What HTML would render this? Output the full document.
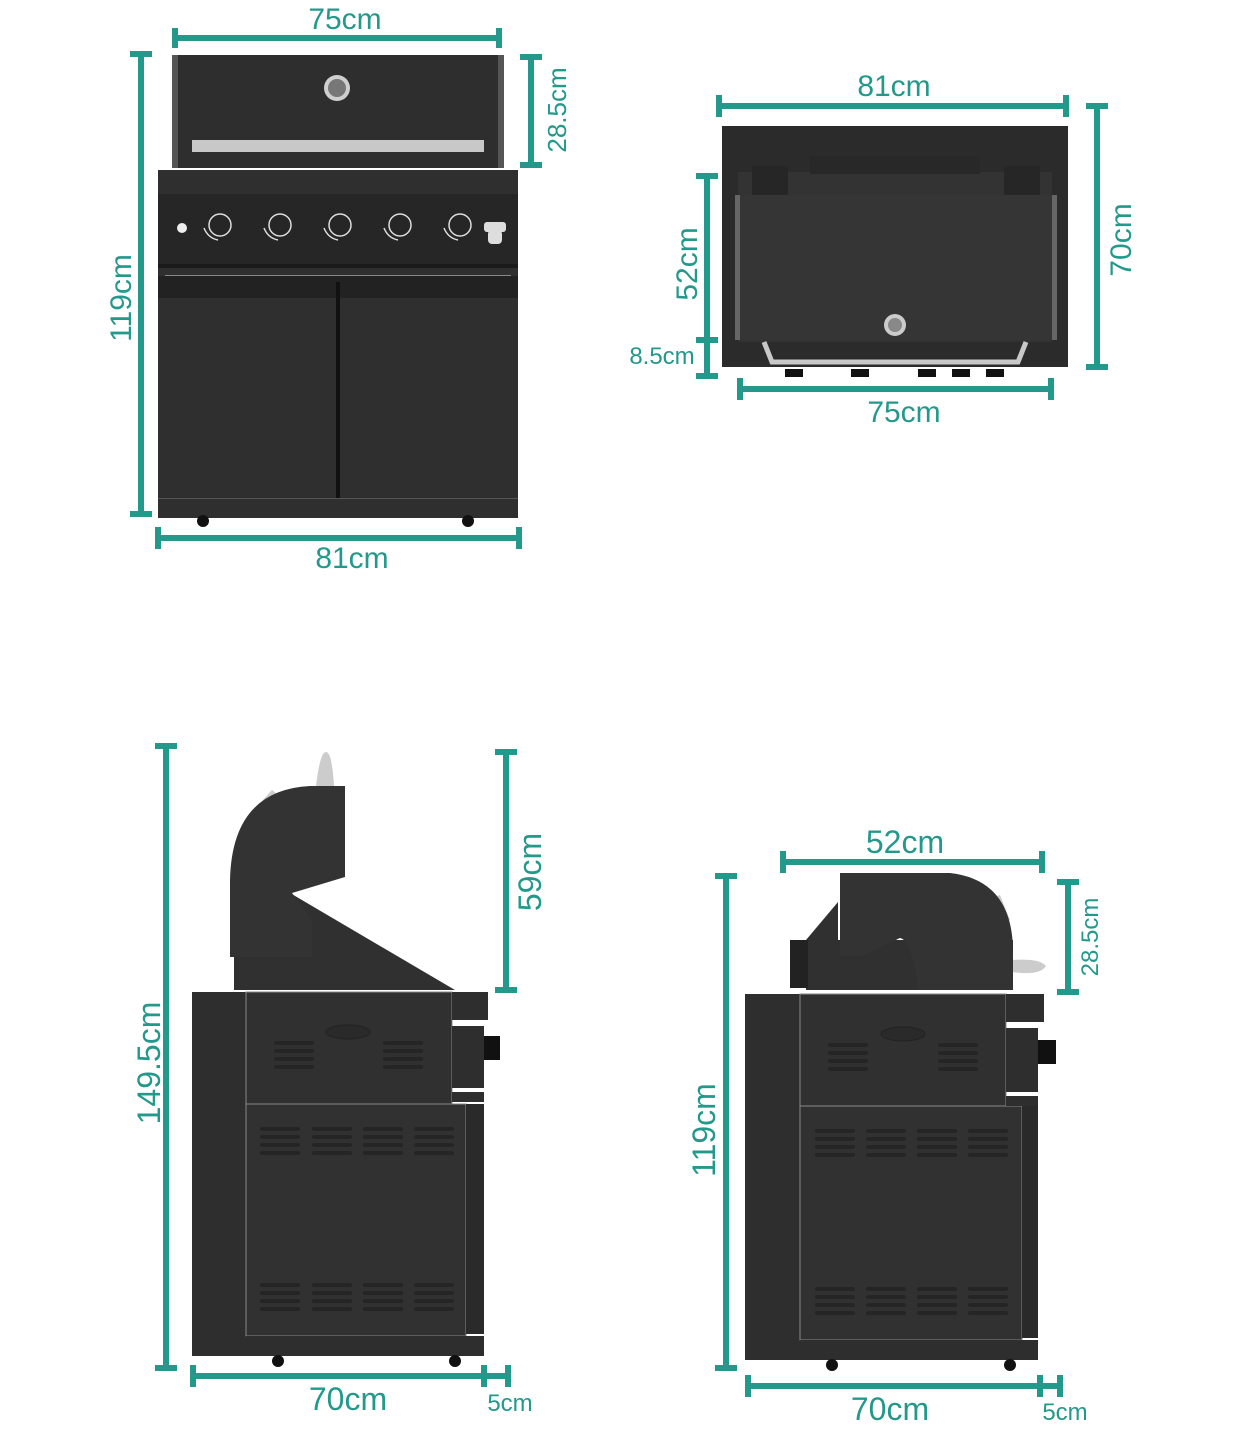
<!DOCTYPE html>
<html><head><meta charset="utf-8"><style>
html,body{margin:0;padding:0;background:#fff}
svg{display:block}
text{font-family:"Liberation Sans",sans-serif;fill:#22998a}
</style></head><body>
<svg width="1241" height="1440" viewBox="0 0 1241 1440" xmlns="http://www.w3.org/2000/svg">
<defs>
<g id="vent"><rect x="0" y="0" width="40" height="4" rx="2" fill="#252525"/><rect x="0" y="8" width="40" height="4" rx="2" fill="#252525"/><rect x="0" y="16" width="40" height="4" rx="2" fill="#252525"/><rect x="0" y="24" width="40" height="4" rx="2" fill="#252525"/></g>
</defs>

<!-- ===== FRONT VIEW ===== -->
<rect x="172" y="55" width="332" height="113" fill="#2e2e2e"/>
<rect x="172" y="55" width="6" height="113" fill="#555"/>
<rect x="498" y="55" width="6" height="113" fill="#555"/>
<circle cx="337" cy="88" r="13" fill="#cfcfcf"/><circle cx="337" cy="88" r="9" fill="#777"/>
<rect x="192" y="140" width="292" height="12" fill="#c8c8c8"/>
<rect x="158" y="170" width="360" height="348" fill="#2f2f2f"/>
<rect x="158" y="194" width="360" height="70" fill="#262626"/>
<rect x="158" y="264" width="360" height="4" fill="#1b1b1b"/>
<rect x="158" y="276" width="360" height="22" fill="#222"/>
<rect x="165" y="275" width="346" height="1" fill="#888"/>
<circle cx="182" cy="228" r="5" fill="#eee"/>
<g fill="none" stroke="#ddd" stroke-width="1.5">
<circle cx="220" cy="225" r="11"/><circle cx="280" cy="225" r="11"/><circle cx="340" cy="225" r="11"/><circle cx="400" cy="225" r="11"/><circle cx="460" cy="225" r="11"/>
<path d="M204 228 q4 10 14 12"/><path d="M264 228 q4 10 14 12"/><path d="M324 228 q4 10 14 12"/><path d="M384 228 q4 10 14 12"/><path d="M444 228 q4 10 14 12"/>
</g>
<rect x="484" y="222" width="22" height="10" rx="3" fill="#ddd"/><rect x="488" y="230" width="14" height="14" rx="4" fill="#ddd"/>
<rect x="336" y="282" width="4" height="216" fill="#111"/>
<rect x="158" y="498" width="360" height="1" fill="#555"/>
<circle cx="203" cy="521" r="6" fill="#111"/><circle cx="468" cy="521" r="6" fill="#111"/>

<!-- ===== TOP VIEW ===== -->
<rect x="722" y="126" width="346" height="241" fill="#2b2b2b"/>
<rect x="738" y="172" width="314" height="170" fill="#333"/>
<rect x="810" y="156" width="170" height="18" fill="#282828"/>
<rect x="752" y="166" width="36" height="30" fill="#262626"/><rect x="1004" y="166" width="36" height="30" fill="#262626"/>
<rect x="735" y="195" width="322" height="145" fill="#353535"/>
<rect x="735" y="195" width="5" height="145" fill="#666"/><rect x="1052" y="195" width="5" height="145" fill="#666"/>
<circle cx="895" cy="325" r="11" fill="#ccc"/><circle cx="895" cy="325" r="7" fill="#888"/>
<path d="M764 342 L772 362 L1018 362 L1026 342" fill="none" stroke="#c8c8c8" stroke-width="5"/>
<rect x="785" y="369" width="18" height="8" fill="#111"/><rect x="851" y="369" width="18" height="8" fill="#111"/><rect x="918" y="369" width="18" height="8" fill="#111"/><rect x="952" y="369" width="18" height="8" fill="#111"/><rect x="986" y="369" width="18" height="8" fill="#111"/>

<!-- ===== SIDE VIEW LEFT ===== -->
<path d="M316 786 Q320 752 326 752 Q332 752 334 786 Z" fill="#ccc"/>
<path d="M252 812 L272 790 L282 798 L260 822 Z" fill="#ccc"/>
<path d="M234 957 L256 957 L256 897 L290 893 L455 990 L234 990 Z" fill="#303030"/>
<path d="M345 786 L345 877 L292 893 L312 920 L312 957 L230 957 L230 880 Q232 790 310 786 Z" fill="#333"/>
<rect x="192" y="992" width="54" height="364" fill="#2e2e2e"/>
<rect x="246" y="992" width="206" height="112" fill="#303030" stroke="#888" stroke-width="1"/>
<rect x="246" y="1104" width="220" height="232" fill="#313131" stroke="#888" stroke-width="1"/>
<rect x="246" y="1336" width="238" height="20" fill="#2e2e2e"/>
<rect x="452" y="992" width="36" height="28" fill="#2e2e2e"/>
<rect x="452" y="1026" width="32" height="62" fill="#2e2e2e"/>
<rect x="484" y="1036" width="16" height="24" fill="#111"/>
<rect x="452" y="1092" width="32" height="10" fill="#2e2e2e"/>
<rect x="466" y="1104" width="18" height="230" fill="#2a2a2a"/>
<ellipse cx="348" cy="1032" rx="22" ry="7" fill="#2a2a2a" stroke="#222"/>
<use href="#vent" x="274" y="1041"/><use href="#vent" x="383" y="1041"/>
<use href="#vent" x="260" y="1127"/><use href="#vent" x="312" y="1127"/><use href="#vent" x="363" y="1127"/><use href="#vent" x="414" y="1127"/>
<use href="#vent" x="260" y="1283"/><use href="#vent" x="312" y="1283"/><use href="#vent" x="363" y="1283"/><use href="#vent" x="414" y="1283"/>
<circle cx="278" cy="1361" r="6" fill="#111"/><circle cx="455" cy="1361" r="6" fill="#111"/>

<!-- ===== SIDE VIEW RIGHT ===== -->
<path d="M985 900 L1000 895 L1010 920 L998 925 Z" fill="#ccc"/>
<path d="M1012 960 Q1040 958 1046 966 Q1040 976 1012 972 Z" fill="#ccc"/>
<rect x="806" y="940" width="207" height="50" fill="#303030"/>
<path d="M838 902 L806 940 L806 990 L918 990 L905 948 L862 956 L838 956 Z" fill="#303030"/>
<path d="M840 873 L950 873 Q1012 880 1013 950 L1013 990 L918 990 Q912 940 900 938 L862 956 L840 956 Z" fill="#333"/>
<rect x="790" y="940" width="18" height="48" fill="#222"/>
<rect x="745" y="994" width="55" height="366" fill="#2e2e2e"/>
<rect x="800" y="994" width="206" height="112" fill="#303030" stroke="#888" stroke-width="1"/>
<rect x="800" y="1106" width="222" height="234" fill="#313131" stroke="#888" stroke-width="1"/>
<rect x="800" y="1340" width="238" height="20" fill="#2e2e2e"/>
<rect x="1006" y="994" width="38" height="28" fill="#2e2e2e"/>
<rect x="1006" y="1028" width="32" height="64" fill="#2e2e2e"/>
<rect x="1038" y="1040" width="18" height="24" fill="#111"/>
<rect x="1006" y="1096" width="32" height="10" fill="#2e2e2e"/>
<rect x="1022" y="1106" width="16" height="232" fill="#2a2a2a"/>
<ellipse cx="903" cy="1034" rx="22" ry="7" fill="#2a2a2a" stroke="#222"/>
<use href="#vent" x="828" y="1043"/><use href="#vent" x="938" y="1043"/>
<use href="#vent" x="815" y="1129"/><use href="#vent" x="866" y="1129"/><use href="#vent" x="917" y="1129"/><use href="#vent" x="968" y="1129"/>
<use href="#vent" x="815" y="1287"/><use href="#vent" x="866" y="1287"/><use href="#vent" x="917" y="1287"/><use href="#vent" x="968" y="1287"/>
<circle cx="832" cy="1365" r="6" fill="#111"/><circle cx="1010" cy="1365" r="6" fill="#111"/>

<!-- ===== DIMENSIONS ===== -->
<g fill="#22998a">
<rect x="172" y="35" width="330" height="6"/><rect x="172" y="28" width="6" height="20"/><rect x="496" y="28" width="6" height="20"/>
<rect x="138" y="54" width="6" height="460"/><rect x="130" y="51" width="22" height="6"/><rect x="130" y="511" width="22" height="6"/>
<rect x="528" y="57" width="6" height="108"/><rect x="520" y="54" width="22" height="6"/><rect x="520" y="162" width="22" height="6"/>
<rect x="158" y="535" width="361" height="6"/><rect x="155" y="527" width="6" height="22"/><rect x="516" y="527" width="6" height="22"/>
<rect x="719" y="103" width="347" height="6"/><rect x="716" y="95" width="6" height="22"/><rect x="1063" y="95" width="6" height="22"/>
<rect x="1094" y="106" width="6" height="261"/><rect x="1086" y="103" width="22" height="6"/><rect x="1086" y="364" width="22" height="6"/>
<rect x="704" y="176" width="6" height="200"/><rect x="696" y="173" width="22" height="6"/><rect x="696" y="337" width="22" height="6"/><rect x="696" y="373" width="22" height="6"/>
<rect x="740" y="386" width="311" height="6"/><rect x="737" y="378" width="6" height="22"/><rect x="1048" y="378" width="6" height="22"/>
<rect x="163" y="746" width="6" height="622"/><rect x="155" y="743" width="22" height="6"/><rect x="155" y="1365" width="22" height="6"/>
<rect x="503" y="752" width="6" height="238"/><rect x="495" y="749" width="22" height="6"/><rect x="495" y="987" width="22" height="6"/>
<rect x="193" y="1373" width="315" height="6"/><rect x="190" y="1365" width="6" height="22"/><rect x="481" y="1365" width="6" height="22"/><rect x="505" y="1365" width="6" height="22"/>
<rect x="783" y="859" width="259" height="6"/><rect x="780" y="851" width="6" height="22"/><rect x="1039" y="851" width="6" height="22"/>
<rect x="723" y="876" width="6" height="492"/><rect x="715" y="873" width="22" height="6"/><rect x="715" y="1365" width="22" height="6"/>
<rect x="1065" y="882" width="6" height="110"/><rect x="1057" y="879" width="22" height="6"/><rect x="1057" y="989" width="22" height="6"/>
<rect x="748" y="1383" width="312" height="6"/><rect x="745" y="1375" width="6" height="22"/><rect x="1037" y="1375" width="6" height="22"/><rect x="1057" y="1375" width="6" height="22"/>
</g>
<g font-size="30" text-anchor="middle">
<text x="345" y="29">75cm</text>
<text x="352" y="568">81cm</text>
<text transform="translate(131,298) rotate(-90)">119cm</text>
<text transform="translate(566,110) rotate(-90)" font-size="26">28.5cm</text>
<text x="894" y="96">81cm</text>
<text x="904" y="422">75cm</text>
<text transform="translate(1131,240) rotate(-90)">70cm</text>
<text transform="translate(697,264) rotate(-90)">52cm</text>
<text x="662" y="364" font-size="24">8.5cm</text>
<text transform="translate(160,1063) rotate(-90)" font-size="32">149.5cm</text>
<text transform="translate(541,872) rotate(-90)" font-size="32">59cm</text>
<text x="348" y="1410" font-size="32">70cm</text>
<text x="510" y="1411" font-size="24">5cm</text>
<text x="905" y="853" font-size="32">52cm</text>
<text transform="translate(715,1130) rotate(-90)" font-size="32">119cm</text>
<text transform="translate(1098,937) rotate(-90)" font-size="24">28.5cm</text>
<text x="890" y="1420" font-size="32">70cm</text>
<text x="1065" y="1420" font-size="24">5cm</text>
</g>
</svg>
</body></html>
